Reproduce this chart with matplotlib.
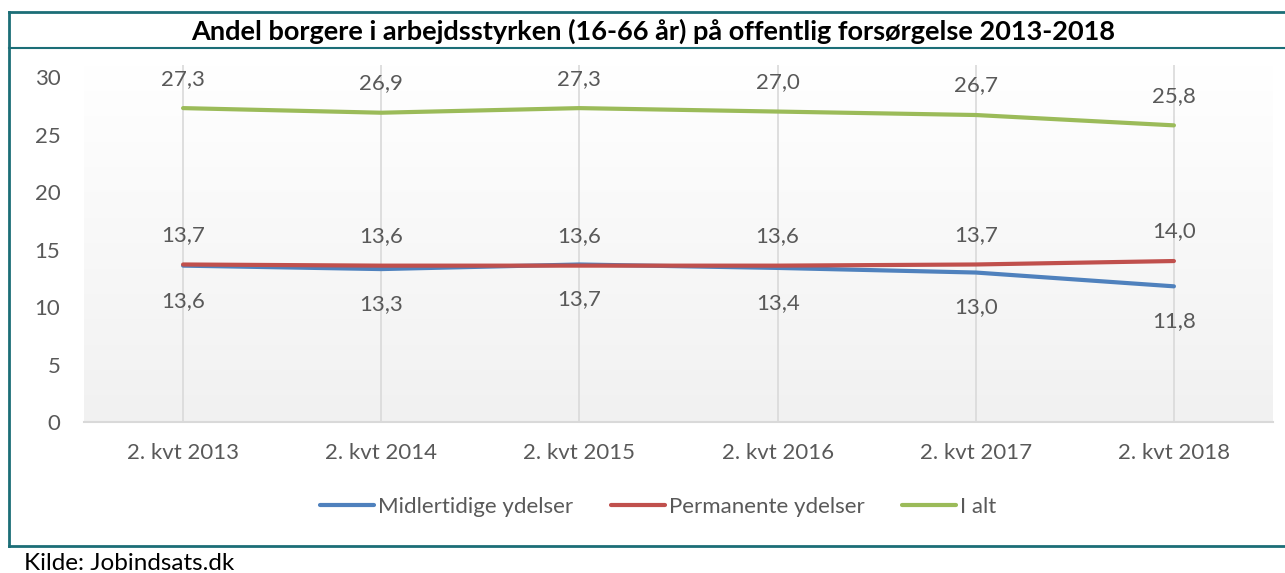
import numpy as np
import matplotlib.pyplot as plt
from matplotlib.lines import Line2D

categories = ["2. kvt 2013", "2. kvt 2014", "2. kvt 2015", "2. kvt 2016", "2. kvt 2017", "2. kvt 2018"]
midlertidige = [13.6, 13.3, 13.7, 13.4, 13.0, 11.8]
permanente = [13.7, 13.6, 13.6, 13.6, 13.7, 14.0]
i_alt = [27.3, 26.9, 27.3, 27.0, 26.7, 25.8]
series_names = ["Midlertidige ydelser", "Permanente ydelser", "I alt"]
y_ticks = [0, 5, 10, 15, 20, 25, 30]

plt.rcParams["font.family"] = ["Lato", "DejaVu Sans"]
text_grey = "#595959"
teal = "#1C6E77"
colors = ["#4F81BD", "#C0504D", "#9BBB59"]
fs = 16

W, H = 1285, 573
fig = plt.figure(figsize=(W / 100, H / 100), dpi=100)

# frame around chart and title bar
fig.add_artist(Line2D([9 / W, 9 / W], [1 - 12 / H, 1 - 546 / H], color=teal, lw=2))
fig.add_artist(Line2D([9 / W, 1], [1 - 12 / H, 1 - 12 / H], color=teal, lw=2))
fig.add_artist(Line2D([9 / W, 1], [1 - 48 / H, 1 - 48 / H], color=teal, lw=1.5))
fig.add_artist(Line2D([9 / W, 1], [1 - 546 / H, 1 - 546 / H], color=teal, lw=2))

fig.text(653 / W, 1 - 31 / H, "Andel borgere i arbejdsstyrken (16-66 år) på offentlig forsørgelse 2013-2018",
         ha="center", va="center", fontsize=19.5, fontweight="bold", color="black")
fig.text(24 / W, 1 - 563 / H, "Kilde: Jobindsats.dk", ha="left", va="center", fontsize=17.5, color="black")

ax = fig.add_axes([84 / W, 1 - 422 / H, (1273 - 84) / W, (422 - 65) / H])
x = np.arange(len(categories))
ax.set_xlim(-0.5, len(categories) - 0.5)
ax.set_ylim(0, 31.05)

# gradient background white -> light grey
grad = np.linspace(1.0, 0.945, 256).reshape(-1, 1)
ax.imshow(np.dstack([grad, grad, grad]), extent=[0, 1, 0, 1], transform=ax.transAxes,
          aspect="auto", zorder=0)

for xi in x:
    ax.axvline(xi, color="#D9D9D9", lw=1.2, zorder=1)

series = [midlertidige, permanente, i_alt]
for vals, col, name in zip(series, colors, series_names):
    ax.plot(x, vals, color=col, lw=3.0, solid_capstyle="round", label=name, zorder=3)

for xi, v in zip(x, i_alt):
    ax.annotate(f"{v:.1f}".replace(".", ","), (xi, v), xytext=(0, 14), textcoords="offset points",
                ha="center", va="bottom", fontsize=fs, color=text_grey)
for xi, v in zip(x, permanente):
    ax.annotate(f"{v:.1f}".replace(".", ","), (xi, v), xytext=(0, 14), textcoords="offset points",
                ha="center", va="bottom", fontsize=fs, color=text_grey)
for xi, v in zip(x, midlertidige):
    ax.annotate(f"{v:.1f}".replace(".", ","), (xi, v), xytext=(0, -18), textcoords="offset points",
                ha="center", va="top", fontsize=fs, color=text_grey)

ax.set_xticks(x)
ax.set_xticklabels(categories)
ax.set_yticks(y_ticks)
ax.tick_params(axis="x", length=0, pad=15, labelsize=fs, labelcolor=text_grey)
ax.tick_params(axis="y", length=0, pad=17, labelsize=fs, labelcolor=text_grey)
for side in ["top", "left", "right"]:
    ax.spines[side].set_visible(False)
ax.spines["bottom"].set_color("#D9D9D9")
ax.spines["bottom"].set_linewidth(1.5)

handles = [Line2D([], [], color=c, lw=3.0, solid_capstyle="round") for c in colors]
leg = fig.legend(handles, series_names, loc="center", bbox_to_anchor=(0.5 + 16 / W, 1 - 507 / H), ncol=3,
                 frameon=False, fontsize=fs, handlelength=2.4, handletextpad=0.2, columnspacing=1.7)
for t in leg.get_texts():
    t.set_color(text_grey)

fig.savefig("out.png", dpi=100)
